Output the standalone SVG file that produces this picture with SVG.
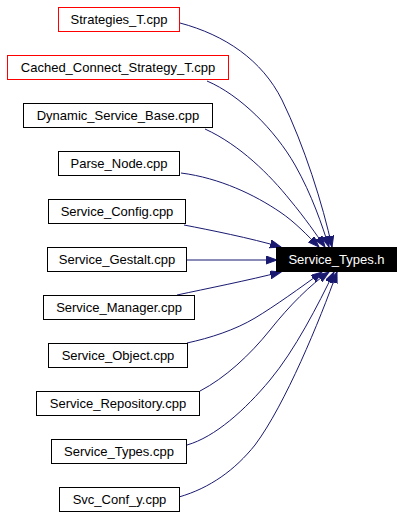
<svg xmlns="http://www.w3.org/2000/svg" width="403" height="517" viewBox="0 0 403 517">
<defs>
<style>
.n rect{fill:#fff;stroke:#000;stroke-width:1}
.n.red rect{stroke:#ff0000}
.n text{font-family:"Liberation Sans",Arial,sans-serif;font-size:13px;text-anchor:middle;fill:#000}
.n.hl rect{fill:#000;stroke:#000}
.n.hl text{fill:#fff}
.e path{fill:none;stroke:#191970;stroke-width:1;marker-end:url(#ah)}
</style>
<marker id="ah" markerUnits="userSpaceOnUse" markerWidth="13" markerHeight="10" refX="11" refY="4" orient="auto">
<path d="M0,0 L11,4 L0,8 z" fill="#191970" stroke="#191970" stroke-width="1"/>
</marker>
</defs>
<rect width="403" height="517" fill="#fff"/>
<g id="edges" class="e">
<path d="M180,23 C225,35 262,60 282,100 C304,145 323,205 332,247"/>
<path d="M207,81 C240,95 275,130 295,165 C312,195 322,225 329,247"/>
<path d="M205,129 C240,145 270,175 290,200 C305,218 316,234 325,247"/>
<path d="M181,173 C220,178 255,195 280,212 C295,222 308,236 319,247"/>
<path d="M184,225 C210,230 250,238 281,247"/>
<path d="M187,260 L277,260"/>
<path d="M177,295 C205,289 250,280 281,272"/>
<path d="M187,343 C210,338 235,330 255,318 C275,306 300,288 322,272"/>
<path d="M200,391 C225,378 250,355 270,330 C290,305 310,285 329,272"/>
<path d="M187,445 C215,437 245,410 270,380 C295,350 318,305 334,272"/>
<path d="M179,497 C210,488 235,470 255,445 C285,405 320,320 337,272"/>
</g>
<g id="n_strategies" class="n red"><rect x="58.5" y="7.5" width="121" height="24"/><text x="119" y="24">Strategies_T.cpp</text></g>
<g id="n_cached" class="n red"><rect x="7.5" y="55.5" width="221" height="24"/><text x="118" y="72">Cached_Connect_Strategy_T.cpp</text></g>
<g id="n_dynamic" class="n"><rect x="23.5" y="103.5" width="189" height="24"/><text x="118" y="120">Dynamic_Service_Base.cpp</text></g>
<g id="n_parse" class="n"><rect x="58.5" y="151.5" width="121" height="24"/><text x="119" y="168">Parse_Node.cpp</text></g>
<g id="n_config" class="n"><rect x="48.5" y="199.5" width="137" height="24"/><text x="117" y="216">Service_Config.cpp</text></g>
<g id="n_gestalt" class="n"><rect x="47.5" y="247.5" width="139" height="24"/><text x="117" y="264">Service_Gestalt.cpp</text></g>
<g id="n_manager" class="n"><rect x="43.5" y="295.5" width="151" height="24"/><text x="119" y="312">Service_Manager.cpp</text></g>
<g id="n_object" class="n"><rect x="48.5" y="343.5" width="139" height="24"/><text x="118" y="360">Service_Object.cpp</text></g>
<g id="n_repository" class="n"><rect x="36.5" y="391.5" width="163" height="24"/><text x="118" y="408">Service_Repository.cpp</text></g>
<g id="n_typescpp" class="n"><rect x="51.5" y="439.5" width="135" height="24"/><text x="119" y="456">Service_Types.cpp</text></g>
<g id="n_svc" class="n"><rect x="59.5" y="487.5" width="120" height="24"/><text x="119.5" y="504">Svc_Conf_y.cpp</text></g>
<g id="n_typesh" class="n hl"><rect x="276.5" y="247.5" width="120" height="24"/><text x="336.5" y="264">Service_Types.h</text></g>
</svg>
